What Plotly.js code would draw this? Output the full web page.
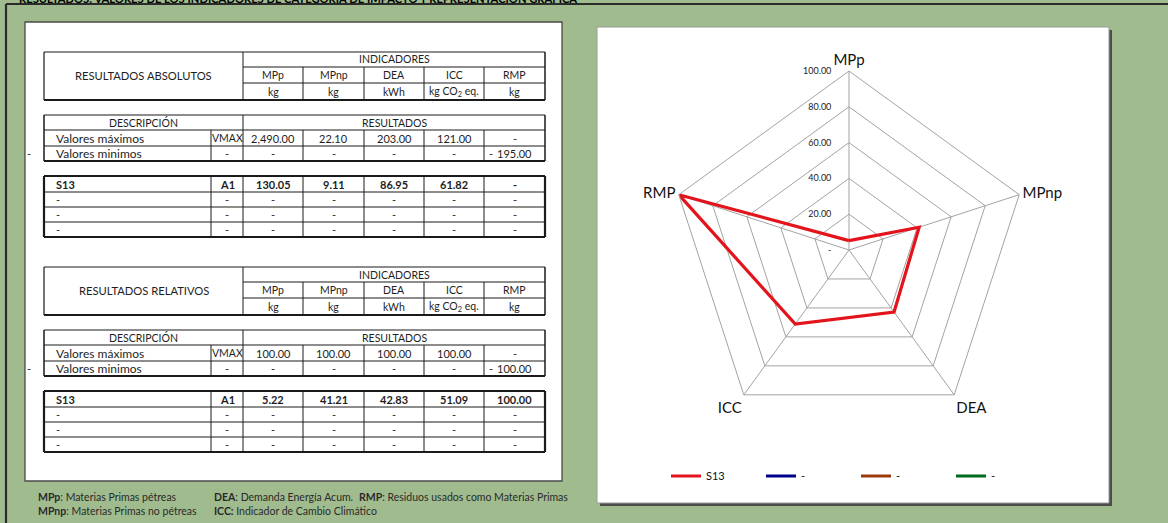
<!DOCTYPE html>
<html>
<head>
<meta charset="utf-8">
<script src="https://cdn.plot.ly/plotly-3.0.1.min.js"></script>
<style>
  html, body { margin: 0; padding: 0; background: #A0BC8E; }
  #chart { width: 1168px; height: 523px; }
</style>
</head>
<body>
<div id="chart"></div>
<script>
// ---- Indicators and their units ----
const indicators = ['MPp', 'MPnp', 'DEA', 'ICC', 'RMP'];
const units = ['kg', 'kg', 'kWh', 'kg CO<sub>2</sub> eq.', 'kg'];

// ---- Absolute results ----
const absMax = [2490.00, 22.10, 203.00, 121.00, 0];
const absMin = [0, 0, 0, 0, -195.00];
const absS13 = [130.05, 9.11, 86.95, 61.82, 0];

// ---- Relative results (0-100 scale) ----
const relMax = [100.00, 100.00, 100.00, 100.00, 0];
const relMin = [0, 0, 0, 0, -100.00];
const relS13 = [5.22, 41.21, 42.83, 51.09, 100.00];

// ---- Series rows (only S13 has data) ----
const seriesNames = ['S13', '-', '-', '-'];
const seriesCodes = ['A1', '-', '-', '-'];
const seriesColors = ['#E3141B', '#00008C', '#9C3A0B', '#006B1E'];
const emptySeries = [null, null, null, null, null];

// ---- Radial scale ----
const radialTicks = [0, 20, 40, 60, 80, 100];

// ---- Footnote glossary ----
const glossary = [
  ['MPp', 'Materias Primas pétreas'],
  ['DEA', 'Demanda Energía Acum.'],
  ['RMP', 'Residuos usados como Materias Primas'],
  ['MPnp', 'Materias Primas no pétreas'],
  ['ICC', 'Indicador de Cambio Climático']
];

// ================= drawing helpers =================
const W = 1168, H = 523;
const FONT = 'Lato, "Open Sans", sans-serif';
const px = x => x / W;
const py = y => 1 - y / H;

const shapes = [];
const annotations = [];

function line(x0, y0, x1, y1, w, color) {
  shapes.push({ type: 'line', xref: 'paper', yref: 'paper',
    x0: px(x0), y0: py(y0), x1: px(x1), y1: py(y1),
    line: { color: color || '#1a1a1a', width: w || 1 } });
}
function rect(x0, y0, x1, y1, fill, lineColor, lw, layer) {
  shapes.push({ type: 'rect', xref: 'paper', yref: 'paper', layer: layer || 'below',
    x0: px(x0), y0: py(y1), x1: px(x1), y1: py(y0),
    fillcolor: fill, line: { color: lineColor || fill, width: lw || 0 } });
}
function text(x, y, str, opt) {
  opt = opt || {};
  annotations.push({ xref: 'paper', yref: 'paper', x: px(x), y: py(y),
    text: str, showarrow: false, xanchor: opt.anchor || 'center',
    yanchor: opt.yanchor || 'middle', borderpad: 0,
    font: { family: FONT, size: opt.size || 11, color: opt.color || '#1e1e1e' } });
}
function bold(s) { return '<b>' + s + '</b>'; }

// accounting-style number display
function fmtNum(v) {
  return Math.abs(v).toLocaleString('en-US', { minimumFractionDigits: 2, maximumFractionDigits: 2 });
}
function valueCell(xl, xr, y, v, isBold) {
  const cx = (xl + xr) / 2;
  const wrap = isBold ? bold : (s => s);
  if (v === null || v === 0) { text(cx, y, wrap('-')); return; }
  if (v < 0) {
    text(xl + 4, y, wrap('-'), { anchor: 'left' });
    text(xr - 12, y, wrap(fmtNum(v)), { anchor: 'right' });
    return;
  }
  text(cx, y, wrap(fmtNum(v)));
}

// column edges of the tables
const COLS = [44, 211, 243, 303, 364, 424, 484, 545];
const VALUE_COLS = [243, 303, 364, 424, 484, 545];

// ================= background panels =================
rect(0, 0, W, H, '#A0BC8E');
line(6, 4, 6, H, 2.2, '#2b2b2b');
line(6, 4, W, 4, 2.2, '#2b2b2b');
// left sheet panel
rect(25, 22, 562, 481, '#ffffff', '#4a4a4a', 1.3);
// chart panel with drop shadow
rect(600, 30, 1112, 506, '#4d4d4d');
rect(597, 27, 1109, 503, '#ffffff', '#9a9a9a', 1);

// sheet heading (partly above the visible area)
text(18, 6.5, bold('RESULTADOS: VALORES DE LOS INDICADORES DE CATEGORÍA DE IMPACTO Y REPRESENTACIÓN GRÁFICA'),
  { anchor: 'left', yanchor: 'bottom', size: 11.2, color: '#000' });

// ================= one results block =================
function block(off, title, maxV, minV, s13V) {
  // --- header table ---
  const h = [52, 67, 83, 100].map(v => v + off);
  line(44, h[0], 545, h[0], 1.2);
  line(44, h[0], 44, h[3], 1.2);
  line(545, h[0], 545, h[3], 1.5);
  line(44, h[3], 545, h[3], 2.2);
  line(243, h[0], 243, h[3], 1);
  line(243, h[1], 545, h[1], 1);
  line(243, h[2], 545, h[2], 1);
  for (let i = 1; i < VALUE_COLS.length - 1; i++) line(VALUE_COLS[i], h[1], VALUE_COLS[i], h[3], 1);
  text(143.5, (h[0] + h[3]) / 2 - 1, title, { size: 11.2 });
  text(394, (h[0] + h[1]) / 2, 'INDICADORES', { size: 10.5 });
  indicators.forEach((n, i) => {
    const cx = (VALUE_COLS[i] + VALUE_COLS[i + 1]) / 2;
    text(cx, (h[1] + h[2]) / 2, n, { size: 10.5 });
    text(cx, (h[2] + h[3]) / 2, units[i], { size: 10.5 });
  });

  // --- description table ---
  const d = [115, 130, 146, 161].map(v => v + off);
  line(44, d[0], 545, d[0], 1.2);
  line(44, d[0], 44, d[3], 1.5);
  line(545, d[0], 545, d[3], 1.5);
  line(44, d[3], 545, d[3], 1.8);
  line(44, d[1], 545, d[1], 1);
  line(44, d[2], 545, d[2], 1);
  line(243, d[0], 243, d[3], 1);
  line(211, d[1], 211, d[3], 1);
  for (let i = 1; i < VALUE_COLS.length - 1; i++) line(VALUE_COLS[i], d[1], VALUE_COLS[i], d[3], 1);
  text(143.5, (d[0] + d[1]) / 2, 'DESCRIPCIÓN', { size: 10.5 });
  text(394, (d[0] + d[1]) / 2, 'RESULTADOS', { size: 10.5 });
  const yMax = (d[1] + d[2]) / 2, yMin = (d[2] + d[3]) / 2;
  text(55, yMax, 'Valores máximos', { anchor: 'left', size: 12 });
  text(55, yMin, 'Valores minimos', { anchor: 'left', size: 12 });
  text(227, yMax, 'VMAX', { size: 10.5 });
  text(227, yMin, '-');
  text(29, yMin, '-');
  indicators.forEach((n, i) => {
    valueCell(VALUE_COLS[i], VALUE_COLS[i + 1], yMax, maxV[i], false);
    valueCell(VALUE_COLS[i], VALUE_COLS[i + 1], yMin, minV[i], false);
  });

  // --- series table ---
  const s = [176, 192, 207, 222, 237].map(v => v + off);
  line(44, s[0], 545, s[0], 2.2);
  line(44, s[4], 545, s[4], 2.2);
  line(44, s[0], 44, s[4], 2.2);
  line(545, s[0], 545, s[4], 2.2);
  for (let r = 1; r < 4; r++) line(44, s[r], 545, s[r], 1);
  for (let c = 1; c < COLS.length - 1; c++) line(COLS[c], s[0], COLS[c], s[4], 1);
  seriesNames.forEach((name, r) => {
    const y = (s[r] + s[r + 1]) / 2;
    const vals = r === 0 ? s13V : emptySeries;
    const b = r === 0;
    text(55, y, b ? bold(name) : name, { anchor: 'left' });
    text(227, y, b ? bold(seriesCodes[r]) : seriesCodes[r]);
    vals.forEach((v, i) => valueCell(VALUE_COLS[i], VALUE_COLS[i + 1], y, v, b));
  });
}

block(0, 'RESULTADOS ABSOLUTOS', absMax, absMin, absS13);
block(215, 'RESULTADOS RELATIVOS', relMax, relMin, relS13);

// ================= glossary footnote =================
const glossPos = [[37, 497], [213, 497], [358, 497], [37, 511], [213, 511]];
glossary.forEach((g, i) => {
  const sep = g[0] === 'ICC' ? ':</b> ' : '</b>: ';
  text(glossPos[i][0], glossPos[i][1], '<b>' + g[0] + sep + g[1], { anchor: 'left', size: 10.5, color: '#2a2a2a' });
});

// ================= radar chart =================
const closeLoop = a => a.concat([a[0]]);
const thetaLoop = closeLoop(indicators);

const traces = seriesNames.map((name, k) => ({
  type: 'scatterpolar',
  mode: 'lines',
  name: name,
  r: closeLoop(k === 0 ? relS13 : emptySeries),
  theta: thetaLoop,
  line: { color: seriesColors[k], width: 3.2 },
  hoverinfo: 'skip'
}));

const layout = {
  width: W, height: H,
  margin: { l: 0, r: 0, t: 0, b: 0 },
  paper_bgcolor: '#A0BC8E',
  font: { family: FONT, color: '#111' },
  showlegend: true,
  legend: {
    orientation: 'h', x: px(666), y: py(476), xanchor: 'left', yanchor: 'middle',
    bgcolor: 'rgba(0,0,0,0)', font: { family: FONT, size: 11, color: '#111' },
    itemwidth: 30, entrywidth: 50, entrywidthmode: 'pixels', traceorder: 'normal'
  },
  polar: {
    domain: { x: [px(670), px(1028)], y: [py(429), py(71)] },
    bgcolor: 'rgba(0,0,0,0)',
    gridshape: 'linear',
    radialaxis: {
      range: [0, 100],
      tickvals: radialTicks,
      ticktext: radialTicks.map(v => v === 0 ? '-' : v.toFixed(2)),
      angle: 90, tickangle: 90, side: 'counterclockwise',
      showline: false, ticks: 'outside', ticklen: 14, tickcolor: 'rgba(0,0,0,0)',
      gridcolor: '#A3A3A3', gridwidth: 1,
      tickfont: { family: FONT, size: 9, color: '#222' }
    },
    angularaxis: {
      rotation: 90, direction: 'clockwise',
      gridcolor: '#A3A3A3', gridwidth: 1,
      showline: true, linecolor: '#A3A3A3', linewidth: 1,
      ticks: '',
      tickfont: { family: FONT, size: 15, color: '#111' }
    }
  },
  shapes: shapes,
  annotations: annotations
};

Plotly.newPlot('chart', traces, layout, { displayModeBar: false, staticPlot: true });
</script>
</body>
</html>
